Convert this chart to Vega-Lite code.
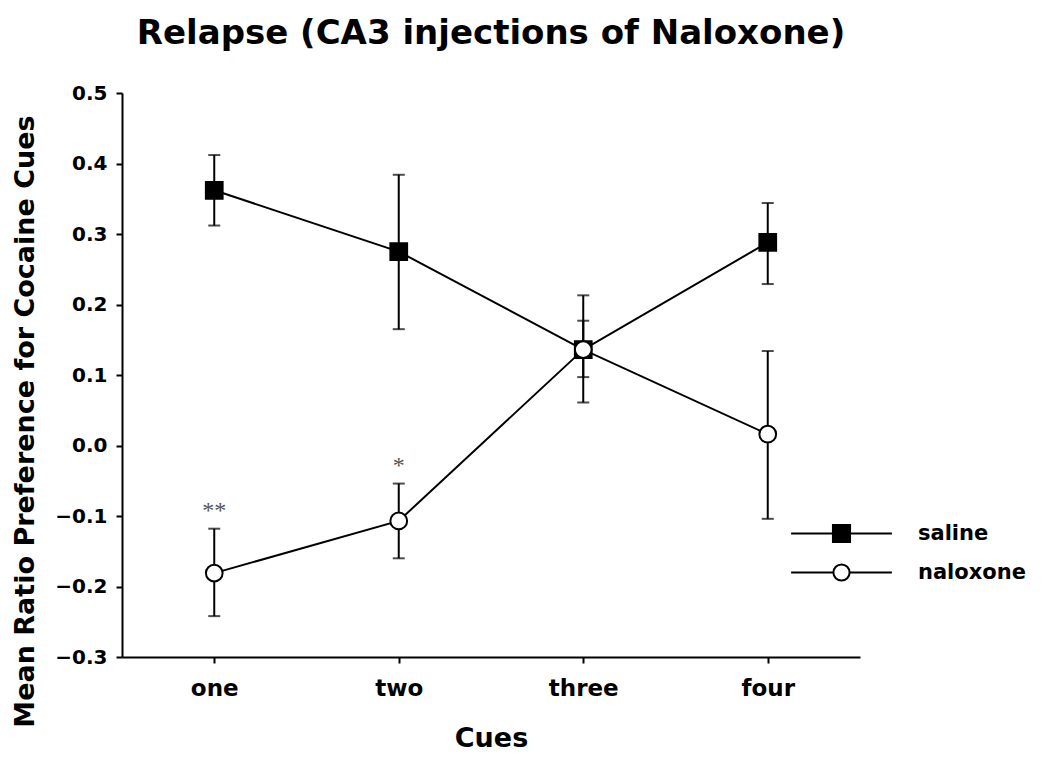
{
  "$schema": "https://vega.github.io/schema/vega-lite/v6.json",
  "width": 738,
  "height": 564,
  "autosize": "none",
  "padding": {"left": 122, "top": 93, "right": 190, "bottom": 107},
  "background": "white",
  "title": {
    "text": "Relapse (CA3 injections of Naloxone)",
    "font": "DejaVu Sans",
    "fontSize": 34,
    "fontWeight": "bold",
    "color": "black",
    "anchor": "middle",
    "offset": 32
  },
  "config": {
    "view": {"stroke": null},
    "axis": {"grid": false, "domainColor": "black", "domainWidth": 2, "tickColor": "black", "tickWidth": 2, "tickSize": 6, "labelColor": "black", "titleColor": "black", "labelFont": "DejaVu Sans", "labelFontWeight": "bold", "titleFont": "DejaVu Sans", "titleFontWeight": "bold"}
  },
  "data": {
    "values": [
      {"group": "saline", "cue": "one", "mean": 0.362, "lo": 0.312, "hi": 0.412, "sig": ""},
      {"group": "saline", "cue": "two", "mean": 0.275, "lo": 0.165, "hi": 0.384, "sig": ""},
      {"group": "saline", "cue": "three", "mean": 0.136, "lo": 0.061, "hi": 0.213, "sig": ""},
      {"group": "saline", "cue": "four", "mean": 0.288, "lo": 0.229, "hi": 0.344, "sig": ""},
      {"group": "naloxone", "cue": "one", "mean": -0.181, "lo": -0.242, "hi": -0.118, "sig": "**"},
      {"group": "naloxone", "cue": "two", "mean": -0.107, "lo": -0.160, "hi": -0.054, "sig": "*"},
      {"group": "naloxone", "cue": "three", "mean": 0.136, "lo": 0.097, "hi": 0.177, "sig": ""},
      {"group": "naloxone", "cue": "four", "mean": 0.016, "lo": -0.104, "hi": 0.134, "sig": ""}
    ]
  },
  "encoding": {
    "x": {
      "field": "cue",
      "type": "ordinal",
      "sort": ["one", "two", "three", "four"],
      "scale": {"type": "point", "padding": 0.5},
      "axis": {
        "title": "Cues",
        "labelAngle": 0,
        "labelFontSize": 23,
        "labelPadding": 14,
        "titleFontSize": 27,
        "titlePadding": 25
      }
    }
  },
  "layer": [
    {
      "mark": {"type": "line", "color": "black", "strokeWidth": 2},
      "encoding": {
        "y": {
          "field": "mean",
          "type": "quantitative",
          "scale": {"domain": [-0.3, 0.5], "nice": false, "zero": false},
          "axis": {
            "title": "Mean Ratio Preference for Cocaine Cues",
            "values": [-0.3, -0.25, -0.2, -0.15, -0.1, -0.05, 0, 0.05, 0.1, 0.15, 0.2, 0.25, 0.3, 0.35, 0.4, 0.45, 0.5],
            "labelExpr": "abs(round(datum.value * 100)) % 10 == 0 ? format(datum.value, '.1f') : ''",
            "labelOverlap": false,
            "labelFontSize": 20,
            "labelPadding": 9,
            "titleFontSize": 27,
            "titlePadding": 15,
            "titleY": 328
          }
        },
        "detail": {"field": "group"}
      }
    },
    {
      "mark": {"type": "rule", "color": "black", "strokeWidth": 2},
      "encoding": {
        "y": {"field": "lo", "type": "quantitative"},
        "y2": {"field": "hi"}
      }
    },
    {
      "mark": {"type": "tick", "color": "black", "size": 12, "thickness": 2},
      "encoding": {"y": {"field": "lo", "type": "quantitative"}}
    },
    {
      "mark": {"type": "tick", "color": "black", "size": 12, "thickness": 2},
      "encoding": {"y": {"field": "hi", "type": "quantitative"}}
    },
    {
      "mark": {"type": "point", "filled": true, "size": 280, "stroke": "black", "strokeWidth": 2, "opacity": 1},
      "encoding": {
        "y": {"field": "mean", "type": "quantitative"},
        "fill": {"condition": {"test": "datum.group === 'saline'", "value": "black"}, "value": "white"},
        "shape": {"condition": {"test": "datum.group === 'saline'", "value": "square"}, "value": "circle"}
      }
    },
    {
      "mark": {"type": "text", "font": "Liberation Serif", "fontSize": 24, "color": "#555555", "baseline": "alphabetic", "dy": -11},
      "encoding": {
        "y": {"field": "hi", "type": "quantitative"},
        "text": {"field": "sig"}
      }
    },
    {
      "mark": {"type": "point", "filled": true, "opacity": 0, "strokeWidth": 2},
      "encoding": {
        "y": {"field": "mean", "type": "quantitative"},
        "fill": {
          "field": "group",
          "type": "nominal",
          "scale": {"domain": ["saline", "naloxone"], "range": ["black", "white"]},
          "legend": {
            "title": null,
            "orient": "none",
            "legendX": 709,
            "legendY": 430,
            "padding": 0,
            "symbolSize": 324,
            "symbolStrokeWidth": 2,
            "symbolOpacity": 1,
            "rowPadding": 13,
            "labelOffset": 66,
            "labelFont": "DejaVu Sans",
            "labelFontWeight": "bold",
            "labelFontSize": 21,
            "labelColor": "black"
          }
        },
        "stroke": {
          "field": "group",
          "type": "nominal",
          "scale": {"domain": ["saline", "naloxone"], "range": ["black", "black"]},
          "legend": {
            "title": null,
            "orient": "none",
            "legendX": 709,
            "legendY": 430,
            "padding": 0,
            "symbolSize": 324,
            "symbolStrokeWidth": 2,
            "symbolOpacity": 1,
            "rowPadding": 13,
            "labelOffset": 66,
            "labelFont": "DejaVu Sans",
            "labelFontWeight": "bold",
            "labelFontSize": 21,
            "labelColor": "black"
          }
        },
        "shape": {
          "field": "group",
          "type": "nominal",
          "scale": {"domain": ["saline", "naloxone"], "range": ["M-5.6,0H-0.95M0.95,0H5.6M-0.95,-0.95H0.95V0.95H-0.95Z", "M-5.6,0H-0.9M0.9,0H5.6M0.9,0A0.9,0.9,0,1,1,-0.9,0A0.9,0.9,0,1,1,0.9,0Z"]},
          "legend": {
            "title": null,
            "orient": "none",
            "legendX": 709,
            "legendY": 430,
            "padding": 0,
            "symbolSize": 324,
            "symbolStrokeWidth": 2,
            "symbolOpacity": 1,
            "rowPadding": 13,
            "labelOffset": 66,
            "labelFont": "DejaVu Sans",
            "labelFontWeight": "bold",
            "labelFontSize": 21,
            "labelColor": "black"
          }
        }
      }
    }
  ]
}
